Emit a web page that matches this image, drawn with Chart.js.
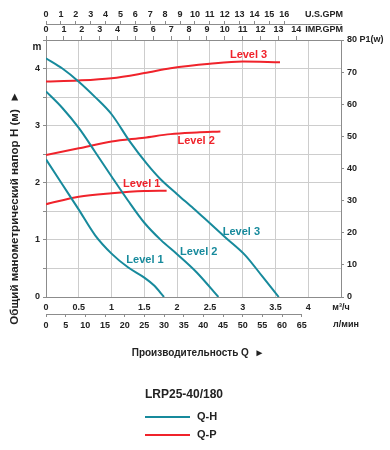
<!DOCTYPE html>
<html>
<head>
<meta charset="utf-8">
<script src="https://cdn.jsdelivr.net/npm/chart.js@4.4.1/dist/chart.umd.min.js"></script>
<style>
  html, body { margin: 0; padding: 0; background: #fff; }
  #chart { display: block; }
</style>
</head>
<body>
<canvas id="chart" width="390" height="450"></canvas>
<script>
// 流量 (m3/h) と揚程 (m) / 消費電力 (W)
const qhLevel1Flow = [0, 0.25, 0.5, 0.75, 1.0, 1.25, 1.5, 1.65, 1.8];
const qhLevel1Head = [2.41, 1.97, 1.53, 1.08, 0.76, 0.52, 0.34, 0.2, 0];
const qhLevel2Flow = [0, 0.25, 0.5, 0.75, 1.0, 1.25, 1.5, 1.75, 2.0, 2.3, 2.63];
const qhLevel2Head = [3.6, 3.31, 2.96, 2.54, 2.11, 1.69, 1.3, 1.0, 0.75, 0.43, 0];
const qhLevel3Flow = [0, 0.25, 0.5, 0.75, 1.0, 1.28, 1.54, 1.74, 2.0, 2.25, 2.5, 2.75, 3.04, 3.3, 3.55];
const qhLevel3Head = [4.18, 4.0, 3.77, 3.5, 3.2, 2.72, 2.33, 2.07, 1.8, 1.55, 1.29, 1.03, 0.73, 0.36, 0];

const qpLevel1Flow = [0, 0.5, 1.0, 1.5, 1.84];
const qpLevel1Power = [28.9, 31.2, 32.3, 33.0, 33.1];
const qpLevel2Flow = [0, 0.5, 1.0, 1.5, 1.9, 2.3, 2.66];
const qpLevel2Power = [44.2, 46.3, 48.4, 49.6, 50.7, 51.2, 51.5];
const qpLevel3Flow = [0, 0.5, 1.0, 1.5, 1.9, 2.5, 3.0, 3.57];
const qpLevel3Power = [67.1, 67.4, 68.1, 69.7, 71.2, 72.6, 73.3, 73.1];

// 目盛り
const flowTicks = [0, 0.5, 1, 1.5, 2, 2.5, 3, 3.5, 4, 4.5];
const lminTicks = [0, 5, 10, 15, 20, 25, 30, 35, 40, 45, 50, 55, 60, 65];
const usGpmTicks = [0, 1, 2, 3, 4, 5, 6, 7, 8, 9, 10, 11, 12, 13, 14, 15, 16];
const impGpmTicks = [0, 1, 2, 3, 4, 5, 6, 7, 8, 9, 10, 11, 12, 13, 14];
const headTicks = [0, 0.5, 1, 1.5, 2, 2.5, 3, 3.5, 4, 4.5];
const powerTicks = [0, 10, 20, 30, 40, 50, 60, 70, 80];

const FLOW_MAX = 4.5;
const TEAL = '#178a9c';
const RED = '#f0232b';
const GRID = '#cdcdcd';
const AXIS = '#8c8c8c';
const FONT = '"Liberation Sans", Arial, sans-serif';

function pts(xs, ys) {
    return xs.map((x, i) => ({ x: x, y: ys[i] }));
}
function fixTicks(list) {
    return function (scale) { scale.ticks = list.map(v => ({ value: v })); };
}

const tickFont = { family: FONT, size: 9, weight: 'bold' };

// ラベル・凡例の描画
const overlay = {
    id: 'overlay',
    afterDraw(chart) {
        const { ctx, chartArea: a, scales } = chart;
        const x = scales.x, y = scales.y, p = scales.p, lm = scales.lmin;
        ctx.save();

        // л/мин の軸線 (65まで)
        ctx.strokeStyle = AXIS;
        ctx.lineWidth = 1;
        ctx.beginPath();
        ctx.moveTo(lm.getPixelForValue(0), Math.round(lm.top) + 0.5);
        ctx.lineTo(lm.getPixelForValue(65), Math.round(lm.top) + 0.5);
        ctx.stroke();

        ctx.fillStyle = '#222';
        ctx.font = 'bold 9px ' + FONT;
        ctx.textBaseline = 'middle';
        ctx.textAlign = 'right';
        ctx.fillText('U.S.GPM', a.right + 2, scales.us.bottom - 9);
        ctx.fillText('IMP.GPM', a.right + 2, scales.imp.bottom - 10);
        ctx.textAlign = 'center';
        ctx.fillText('л/мин', lm.getPixelForValue(75) + 5, lm.top + 11);
        ctx.font = 'bold 10px ' + FONT;
        ctx.fillText('m', a.left - 9, a.top + 7);

        // 曲線ラベル
        ctx.font = 'bold 11px ' + FONT;
        ctx.fillStyle = RED;
        ctx.fillText('Level 3', x.getPixelForValue(3.09), p.getPixelForValue(75.4));
        ctx.fillText('Level 2', x.getPixelForValue(2.29), p.getPixelForValue(48.6));
        ctx.fillText('Level 1', x.getPixelForValue(1.46), p.getPixelForValue(35.2));
        ctx.fillStyle = TEAL;
        ctx.fillText('Level 3', x.getPixelForValue(2.98), y.getPixelForValue(1.13));
        ctx.fillText('Level 2', x.getPixelForValue(2.33), y.getPixelForValue(0.79));
        ctx.fillText('Level 1', x.getPixelForValue(1.51), y.getPixelForValue(0.65));

        // 軸タイトル
        ctx.fillStyle = '#222';
        ctx.font = 'bold 10px ' + FONT;
        ctx.fillText('Производительность Q  ►', 198, 353);

        ctx.save();
        ctx.translate(15, 208);
        ctx.rotate(-Math.PI / 2);
        ctx.font = 'bold 11.6px ' + FONT;
        ctx.fillText('Общий манометрический напор H (м)  ►', 0, 0);
        ctx.restore();

        // 凡例
        ctx.textAlign = 'left';
        ctx.font = 'bold 12px ' + FONT;
        ctx.fillText('LRP25-40/180', 145, 395);
        ctx.lineWidth = 2;
        ctx.strokeStyle = TEAL;
        ctx.beginPath(); ctx.moveTo(145, 417); ctx.lineTo(190, 417); ctx.stroke();
        ctx.strokeStyle = RED;
        ctx.beginPath(); ctx.moveTo(145, 435); ctx.lineTo(190, 435); ctx.stroke();
        ctx.font = 'bold 11px ' + FONT;
        ctx.fillText('Q-H', 197, 417);
        ctx.fillText('Q-P', 197, 435);

        ctx.restore();
    }
};

function line(data, color, axis) {
    return {
        data: data,
        yAxisID: axis,
        borderColor: color,
        borderWidth: 2,
        pointRadius: 0,
        fill: false,
        cubicInterpolationMode: 'monotone'
    };
}

const ctx = document.getElementById('chart').getContext('2d');
new Chart(ctx, {
    type: 'line',
    data: {
        datasets: [
            line(pts(qhLevel1Flow, qhLevel1Head), TEAL, 'y'),
            line(pts(qhLevel2Flow, qhLevel2Head), TEAL, 'y'),
            line(pts(qhLevel3Flow, qhLevel3Head), TEAL, 'y'),
            line(pts(qpLevel1Flow, qpLevel1Power), RED, 'p'),
            line(pts(qpLevel2Flow, qpLevel2Power), RED, 'p'),
            line(pts(qpLevel3Flow, qpLevel3Power), RED, 'p')
        ]
    },
    options: {
        responsive: false,
        animation: false,
        devicePixelRatio: 1,
        layout: { padding: 0 },
        plugins: { legend: { display: false }, tooltip: { enabled: false } },
        scales: {
            x: {
                type: 'linear', position: 'bottom', weight: 0,
                min: 0, max: FLOW_MAX,
                afterBuildTicks: fixTicks(flowTicks),
                afterFit: s => { s.height = 17; },
                grid: { color: GRID, drawTicks: false },
                border: { color: AXIS },
                ticks: {
                    font: tickFont, color: '#222', padding: 5, maxRotation: 0, autoSkip: false,
                    callback: v => v === 4.5 ? 'м³/ч' : v
                }
            },
            lmin: {
                type: 'linear', position: 'bottom', weight: 1,
                min: 0, max: FLOW_MAX * 1000 / 60,
                afterBuildTicks: fixTicks(lminTicks),
                afterFit: s => { s.height = 136; },
                grid: { drawOnChartArea: false, tickLength: 3, tickColor: AXIS },
                border: { display: false },
                ticks: { font: tickFont, color: '#222', padding: 3, maxRotation: 0, autoSkip: false }
            },
            imp: {
                type: 'linear', position: 'top', weight: 1,
                min: 0, max: FLOW_MAX / 0.272765,
                afterBuildTicks: fixTicks(impGpmTicks),
                afterFit: s => { s.height = 16; },
                grid: { drawOnChartArea: false, tickLength: 4, tickColor: AXIS },
                border: { color: AXIS },
                ticks: { font: tickFont, color: '#222', padding: 1, maxRotation: 0, autoSkip: false }
            },
            us: {
                type: 'linear', position: 'top', weight: 2,
                min: 0, max: FLOW_MAX / 0.227125,
                afterBuildTicks: fixTicks(usGpmTicks),
                afterFit: s => { s.height = 24; },
                grid: { drawOnChartArea: false, tickLength: 3, tickColor: AXIS },
                border: { color: AXIS },
                ticks: { font: tickFont, color: '#222', padding: 1, maxRotation: 0, autoSkip: false }
            },
            y: {
                type: 'linear', position: 'left',
                min: 0, max: 4.5,
                afterBuildTicks: fixTicks(headTicks),
                afterFit: s => { s.width = 46; },
                grid: { color: GRID, tickLength: 3, tickColor: AXIS },
                border: { color: AXIS },
                ticks: {
                    font: tickFont, color: '#222', padding: 3, autoSkip: false,
                    callback: v => Number.isInteger(v) ? v : ''
                }
            },
            p: {
                type: 'linear', position: 'right',
                min: 0, max: 80,
                afterBuildTicks: fixTicks(powerTicks),
                afterFit: s => { s.width = 49; },
                grid: { drawOnChartArea: false, tickLength: 3, tickColor: AXIS },
                border: { color: AXIS },
                ticks: {
                    font: tickFont, color: '#222', padding: 3, autoSkip: false,
                    callback: v => v === 80 ? '80 P1(w)' : v
                }
            }
        }
    },
    plugins: [overlay]
});
</script>
</body>
</html>
